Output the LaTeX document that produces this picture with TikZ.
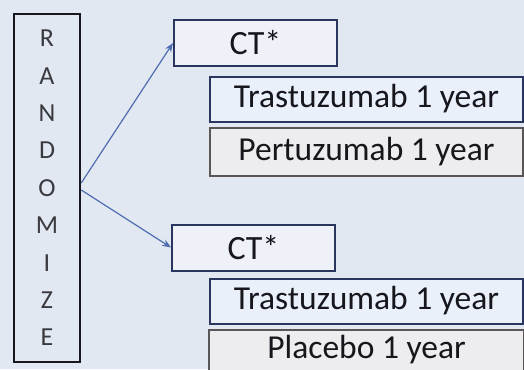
\documentclass[tikz,border=0pt]{standalone}
\usepackage{fontspec}
\setmainfont{Carlito}
\usetikzlibrary{arrows.meta}
\definecolor{bg}{HTML}{E2E8F2}
\definecolor{navy}{HTML}{2A3560}
\definecolor{trfill}{HTML}{EAF0FA}
\definecolor{grfill}{HTML}{EDEDEF}
\definecolor{grline}{HTML}{5A5658}
\definecolor{arrowc}{HTML}{4D6DB0}
\definecolor{txt}{HTML}{16161C}
\tikzset{
  ctbox/.style={draw=navy, line width=2pt, fill=bg!60!white, minimum width=163pt, minimum height=46pt, inner sep=0pt, text=txt, font=\fontsize{34}{40}\selectfont},
  trbox/.style={draw=navy, line width=2pt, fill=trfill, minimum width=313pt, minimum height=45pt, inner sep=0pt, text=txt, font=\fontsize{33.5}{38}\selectfont},
  grbox/.style={draw=grline, line width=2pt, fill=grfill, minimum width=313pt, minimum height=48pt, inner sep=0pt, text=txt, font=\fontsize{33.5}{38}\selectfont},
  randbox/.style={draw=txt, line width=2.5pt, minimum width=66pt, minimum height=348pt, inner sep=0pt, text=txt!85, align=center, font=\fontsize{26}{37.4}\selectfont},
  arr/.style={draw=arrowc, line width=1.2pt, -{Stealth[length=9pt,width=7pt]}}
}
\begin{document}
\begin{tikzpicture}[x=1pt,y=-1pt]
\useasboundingbox (0,0) rectangle (524,369);
\fill[bg] (0,0) rectangle (524,369);
\clip (0,0) rectangle (524,369);
\node[randbox] (rand) at (47,188) {R\\A\\N\\D\\O\\M\\I\\Z\\E};
\node[ctbox] (ct1) at (255.5,43) {CT*};
\node[trbox] (tr1) at (366.5,99) {Trastuzumab 1 year};
\node[grbox] (pe1) at (366.5,151.5) {Pertuzumab 1 year};
\node[ctbox] (ct2) at (253.5,247.5) {CT*};
\node[trbox] (tr2) at (366.5,301) {Trastuzumab 1 year};
\node[grbox, draw=none, minimum height=39pt] (pl) at (366.5,350) {Placebo 1 year};
\draw[grline, line width=2pt] ([yshift=-3pt]pl.south west) -- (pl.north west) -- (pl.north east) -- ([yshift=-3pt]pl.south east);
\draw[arr] ([yshift=5pt]rand.east) -- (ct1.west);
\draw[arr] ([yshift=-2pt]rand.east) -- (ct2.west);
\end{tikzpicture}
\end{document}
